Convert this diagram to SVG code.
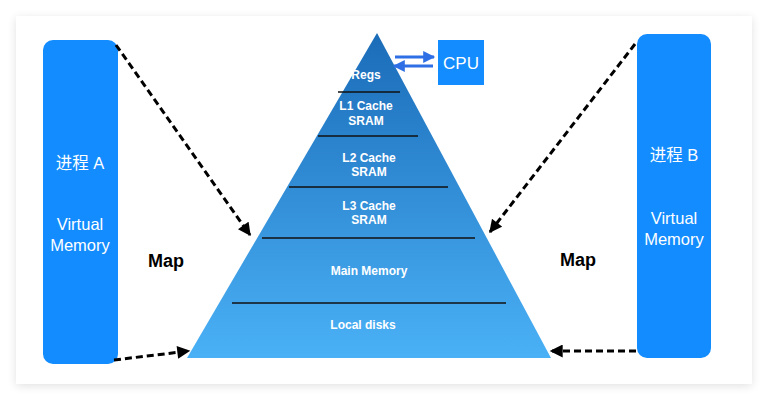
<svg xmlns="http://www.w3.org/2000/svg" width="768" height="400" viewBox="0 0 768 400">
<defs>
<style>
.box{fill:#128cff}
.wt{fill:#fff;font-family:"Liberation Sans","Noto Sans CJK SC",sans-serif;font-size:16.5px;text-anchor:middle}
.lv{fill:#fff;font-family:"Liberation Sans",Arial,sans-serif;font-size:12px;font-weight:bold;text-anchor:middle}
.map{fill:#000;font-family:"Liberation Sans",Arial,sans-serif;font-size:18px;font-weight:bold;text-anchor:middle}
.sep{stroke:#111;stroke-width:1.5}
.dash{stroke:#000;stroke-width:3;stroke-dasharray:7 4;fill:none}
.cpuar{stroke:#2f6fe6;stroke-width:3;fill:none}
</style>
<linearGradient id="pg" x1="0" y1="0" x2="0" y2="1">
<stop offset="0" stop-color="#1b6cb8"/>
<stop offset="1" stop-color="#4ab1f6"/>
</linearGradient>
<filter id="sh" x="-5%" y="-5%" width="110%" height="110%">
<feGaussianBlur in="SourceAlpha" stdDeviation="5"/>
<feOffset dx="0" dy="2"/>
<feComponentTransfer><feFuncA type="linear" slope="0.12"/></feComponentTransfer>
<feMerge><feMergeNode/><feMergeNode in="SourceGraphic"/></feMerge>
</filter>
<marker id="ah" viewBox="0 0 10 10" refX="9" refY="5" markerWidth="14" markerHeight="13" orient="auto" markerUnits="userSpaceOnUse">
<path d="M0,0 L10,5 L0,10 Z" fill="#000"/>
</marker>
<marker id="ahb" viewBox="0 0 10 10" refX="9" refY="5" markerWidth="13" markerHeight="12" orient="auto" markerUnits="userSpaceOnUse">
<path d="M0,0 L10,5 L0,10 Z" fill="#2f6fe6"/>
</marker>
</defs>
<rect width="768" height="400" fill="#fff"/>
<rect x="16" y="16" width="736" height="368" fill="#fff" filter="url(#sh)"/>

<g id="procA">
<rect class="box" x="43" y="40" width="75" height="324" rx="10"/>
<text class="wt" x="80" y="169">进程 A</text>
<text class="wt" x="80" y="230">Virtual</text>
<text class="wt" x="80" y="251">Memory</text>
</g>

<g id="procB">
<rect class="box" x="637" y="34" width="74" height="324" rx="10"/>
<text class="wt" x="674" y="161">进程 B</text>
<text class="wt" x="674" y="224">Virtual</text>
<text class="wt" x="674" y="245">Memory</text>
</g>

<g id="pyramid">
<path d="M377,33 L551,358 L187,358 Z" fill="url(#pg)"/>
<line class="sep" x1="338" y1="92" x2="400" y2="92"/>
<line class="sep" x1="318" y1="136" x2="418" y2="136"/>
<line class="sep" x1="289" y1="187" x2="448" y2="187"/>
<line class="sep" x1="262" y1="238" x2="475" y2="238"/>
<line class="sep" x1="232" y1="303" x2="506" y2="303"/>
<text class="lv" x="366" y="79">Regs</text>
<text class="lv" x="366" y="110">L1 Cache</text>
<text class="lv" x="366" y="125">SRAM</text>
<text class="lv" x="369" y="162">L2 Cache</text>
<text class="lv" x="369" y="176">SRAM</text>
<text class="lv" x="369" y="210">L3 Cache</text>
<text class="lv" x="369" y="224">SRAM</text>
<text class="lv" x="369" y="275">Main Memory</text>
<text class="lv" x="363" y="329">Local disks</text>
</g>

<g id="cpu">
<rect x="438" y="40" width="46" height="45" fill="#128cff"/>
<text x="461" y="69" fill="#fff" font-family="Liberation Sans, Arial, sans-serif" font-size="17" text-anchor="middle">CPU</text>
</g>

<g id="map-left"><text class="map" x="166" y="267">Map</text></g>
<g id="map-right"><text class="map" x="578" y="266">Map</text></g>

<g id="connectors">
<line class="cpuar" x1="395" y1="57" x2="434" y2="57" marker-end="url(#ahb)"/>
<line class="cpuar" x1="433" y1="66" x2="394" y2="66" marker-end="url(#ahb)"/>
<line class="dash" x1="116" y1="45" x2="250" y2="235" marker-end="url(#ah)"/>
<line class="dash" x1="114" y1="360" x2="189" y2="351" marker-end="url(#ah)"/>
<line class="dash" x1="635" y1="44" x2="490" y2="232" marker-end="url(#ah)"/>
<line class="dash" x1="636" y1="351" x2="551" y2="351" marker-end="url(#ah)"/>
</g>
</svg>
